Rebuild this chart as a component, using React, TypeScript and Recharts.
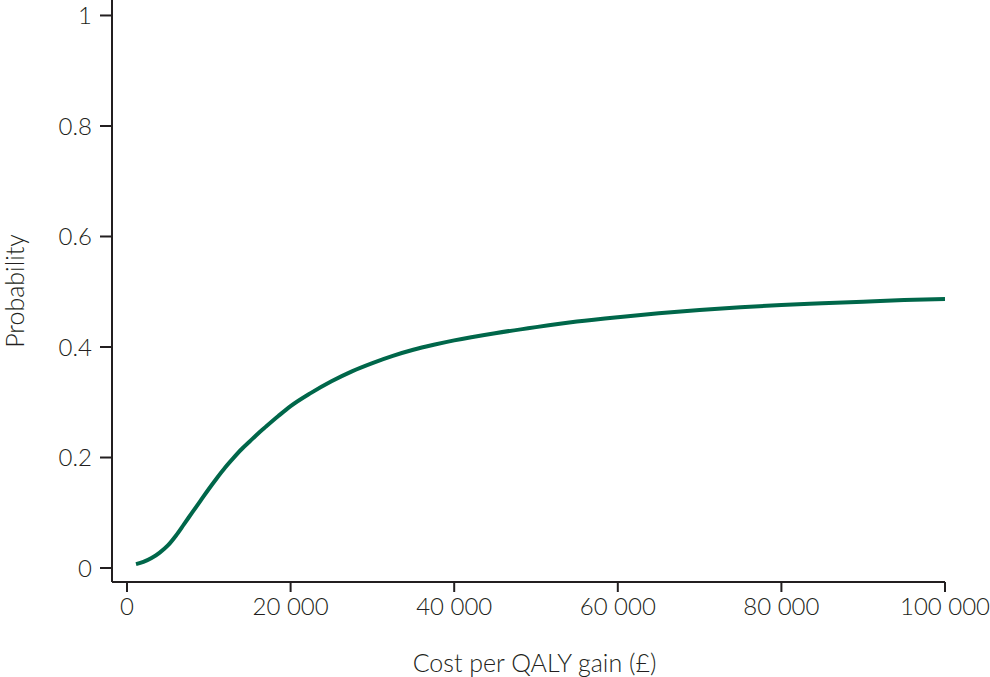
import { LineChart, Line, XAxis, YAxis } from "recharts"

const costs = [
  1100, 2000, 3000, 4000, 5000, 6000, 7000, 8000, 9000, 10000, 11000, 12000, 13000, 14000, 15000,
  16000, 17000, 18500, 20000, 22500, 25000, 27500, 30000, 32500, 35000, 37500, 40000, 45000,
  50000, 55000, 60000, 65000, 70000, 75000, 80000, 85000, 90000, 95000, 100000,
]
const probabilities = [
  0.007, 0.011, 0.018, 0.028, 0.041, 0.059, 0.08, 0.101, 0.122, 0.143, 0.163, 0.182, 0.199, 0.215,
  0.229, 0.243, 0.256, 0.275, 0.293, 0.317, 0.338, 0.356, 0.371, 0.384, 0.395, 0.404, 0.412,
  0.425, 0.436, 0.446, 0.454, 0.461, 0.467, 0.472, 0.476, 0.479, 0.482, 0.485, 0.487,
]
const xTicks = [0, 20000, 40000, 60000, 80000, 100000]
const yTicks = [0, 0.2, 0.4, 0.6, 0.8, 1]

const data = costs.map((c, i) => ({ cost: c, prob: probabilities[i] }))

const FONT = "Lato, 'Open Sans', sans-serif"
const AXIS = "#231f20"
const FS = 24

const fmtCost = (v: number) => (v === 0 ? "0" : v.toLocaleString("en-US").replace(/,/g, " "))

export default function App() {
  return (
    <div style={{ position: "absolute", left: 0, top: 0, background: "#fff" }}>
      <LineChart width={990} height={677} data={data} margin={{ top: 0, right: 45, bottom: 0, left: 0 }}>
        <XAxis
          dataKey="cost"
          type="number"
          domain={[-1834, 100000]}
          ticks={xTicks}
          tickFormatter={fmtCost}
          height={95}
          tickSize={10}
          tickMargin={6}
          stroke={AXIS}
          strokeWidth={2}
          tick={{ fill: AXIS, fontSize: FS, fontFamily: FONT, fontWeight: 300 }}
          label={{
            value: "Cost per QALY gain (£)",
            position: "insideBottom",
            offset: 5,
            fill: AXIS,
            fontSize: 25,
            fontFamily: FONT,
            fontWeight: 300,
            dx: 6,
          }}
          allowDataOverflow
        />
        <YAxis
          type="number"
          domain={[-0.0253, 1.028]}
          ticks={yTicks}
          tickFormatter={(v: number) => String(v)}
          width={112}
          tickSize={12}
          tickMargin={8}
          stroke={AXIS}
          strokeWidth={2}
          tick={{ fill: AXIS, fontSize: FS, fontFamily: FONT, fontWeight: 300 }}
          label={{
            value: "Probability",
            angle: -90,
            position: "insideLeft",
            offset: 15,
            fill: AXIS,
            fontSize: 25,
            fontFamily: FONT,
            fontWeight: 300,
            style: { textAnchor: "middle" },
          }}
          allowDataOverflow
        />
        <Line
          dataKey="prob"
          type="monotone"
          stroke="#00674a"
          strokeWidth={4}
          dot={false}
          isAnimationActive={false}
        />
      </LineChart>
    </div>
  )
}
